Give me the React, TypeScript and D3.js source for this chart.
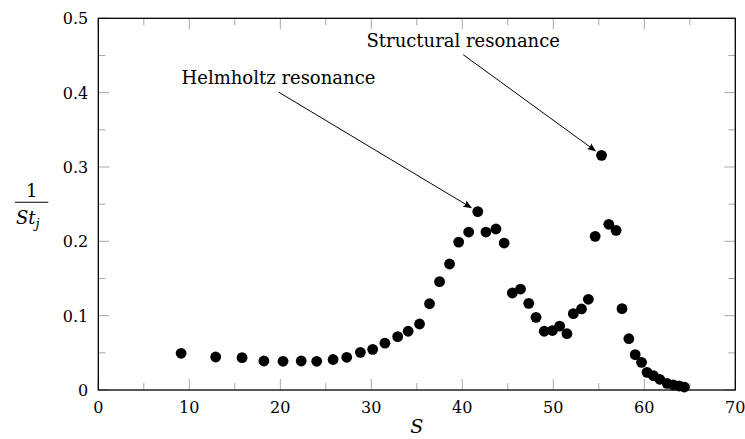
import React from "react";
import * as d3 from "d3";

// Strouhal-number measurements: inverse jet Strouhal number versus S
const sValues = [
  9.1, 12.9, 15.8, 18.2, 20.3, 22.3, 24.0, 25.8, 27.3, 28.8, 30.15, 31.5, 32.9, 34.05,
  35.3, 36.4, 37.5, 38.6, 39.6, 40.7, 41.7, 42.6, 43.7, 44.6, 45.5, 46.4, 47.3, 48.1,
  49.0, 49.9, 50.7, 51.5, 52.2, 53.1, 53.85, 54.6, 55.3, 56.1, 56.9, 57.55, 58.3, 59.0,
  59.7, 60.3, 61.0, 61.7, 62.5, 63.2, 63.85, 64.4,
];
const invSt = [
  0.0494, 0.0444, 0.0435, 0.039, 0.0386, 0.039, 0.0386, 0.041, 0.044, 0.0507, 0.0547,
  0.063, 0.0718, 0.079, 0.0888, 0.116, 0.1457, 0.1695, 0.199, 0.2125, 0.240, 0.2125,
  0.2166, 0.1977, 0.1305, 0.1358, 0.1166, 0.0977, 0.079, 0.080, 0.086, 0.0757, 0.1027,
  0.109, 0.122, 0.2067, 0.3157, 0.2229, 0.2148, 0.1094, 0.069, 0.0475, 0.0372, 0.0238,
  0.0193, 0.0144, 0.009, 0.0067, 0.0054, 0.004,
];

const xMajorTicks = [0, 10, 20, 30, 40, 50, 60, 70];
const xMinorTicks = [5, 15, 25, 35, 45, 55, 65];
const yMajorTicks = [0, 0.1, 0.2, 0.3, 0.4, 0.5];
const yMinorTicks = [0.05, 0.15, 0.25, 0.35, 0.45];

// Annotations: label, label anchor (axis coords, baseline centre), index of pointed sample
const annotationLabels = ["Helmholtz resonance", "Structural resonance"];
const annotationAnchors: [number, number][] = [
  [19.8, 0.4116],
  [40.1, 0.4618],
];
const annotationTargets = [20, 36];

const W = 745;
const H = 439;
const FONT = "'DejaVu Serif', serif";

export default function App() {
  const x = d3.scaleLinear().domain([0, 70]).range([98.3, 735.3]);
  const y = d3.scaleLinear().domain([0, 0.5]).range([390, 18.3]);
  const [x0, x1] = x.range();
  const [yb, yt] = y.range();
  const r = 5.4;
  const major = 11;
  const minor = 7;
  const tickColor = "#a8a8a8";

  const arrows = annotationTargets.map((ti, i) => {
    const [ax, ay] = annotationAnchors[i];
    const sx = x(ax);
    const sy = y(ay) + 8;
    const tx = x(sValues[ti]);
    const ty = y(invSt[ti]);
    const dx = tx - sx;
    const dy = ty - sy;
    const len = Math.hypot(dx, dy);
    const ux = dx / len;
    const uy = dy / len;
    const ex = tx - ux * (r + 1.2);
    const ey = ty - uy * (r + 1.2);
    // arrowhead
    const hl = 9;
    const hw = 3.6;
    const bx = ex - ux * hl;
    const by = ey - uy * hl;
    const px = -uy;
    const py = ux;
    const head = `M${ex},${ey} L${bx + px * hw},${by + py * hw} Q${ex - ux * hl * 0.7},${ey - uy * hl * 0.7} ${bx - px * hw},${by - py * hw} Z`;
    return { sx, sy, lx: ex - ux * 5, ly: ey - uy * 5, head, label: annotationLabels[i], tx: sx, ty: y(ay) };
  });

  const serif = { fontFamily: FONT };

  return (
    <svg
      width={W}
      height={H}
      style={{ position: "absolute", left: 0, top: 0, background: "#fff" }}
    >
      <rect x={0} y={0} width={W} height={H} fill="#fff" />
      {/* minor and major ticks, mirrored on all four sides */}
      <g stroke={tickColor} strokeWidth={1}>
        {xMinorTicks.map((t) => (
          <g key={"xm" + t}>
            <line x1={x(t)} x2={x(t)} y1={yb} y2={yb - minor} />
            <line x1={x(t)} x2={x(t)} y1={yt} y2={yt + minor} />
          </g>
        ))}
        {xMajorTicks.map((t) => (
          <g key={"xM" + t}>
            <line x1={x(t)} x2={x(t)} y1={yb} y2={yb - major} />
            <line x1={x(t)} x2={x(t)} y1={yt} y2={yt + major} />
          </g>
        ))}
        {yMinorTicks.map((t) => (
          <g key={"ym" + t}>
            <line x1={x0} x2={x0 + minor} y1={y(t)} y2={y(t)} />
            <line x1={x1} x2={x1 - minor} y1={y(t)} y2={y(t)} />
          </g>
        ))}
        {yMajorTicks.map((t) => (
          <g key={"yM" + t}>
            <line x1={x0} x2={x0 + major} y1={y(t)} y2={y(t)} />
            <line x1={x1} x2={x1 - major} y1={y(t)} y2={y(t)} />
          </g>
        ))}
      </g>
      <rect
        x={x0}
        y={yt}
        width={x1 - x0}
        height={yb - yt}
        fill="none"
        stroke="#000"
        strokeWidth={1.3}
      />
      {/* tick labels */}
      <g style={serif} fontSize={16} fill="#000">
        {xMajorTicks.map((t) => (
          <text key={"xl" + t} x={x(t)} y={yb + 22.5} textAnchor="middle" style={serif}>
            {d3.format("d")(t)}
          </text>
        ))}
        {yMajorTicks.map((t) => (
          <text key={"yl" + t} x={x0 - 10} y={y(t) + 6} textAnchor="end" style={serif}>
            {t === 0 ? "0" : d3.format(".1f")(t)}
          </text>
        ))}
      </g>
      {/* axis labels */}
      <text
        x={(x0 + x1) / 2}
        y={433}
        textAnchor="middle"
        style={serif}
        fontStyle="italic"
        fontSize={19}
      >
        S
      </text>
      <g fontSize={18}>
        <text x={31.7} y={197} textAnchor="middle" style={serif}>
          1
        </text>
        <line x1={15} x2={48.3} y1={202.3} y2={202.3} stroke="#000" strokeWidth={1.1} />
        <text x={16} y={224} fontStyle="italic" style={serif}>
          St
          <tspan fontSize={13} dy={4}>
            j
          </tspan>
        </text>
      </g>
      {/* data */}
      <g fill="#000">
        {sValues.map((s, i) => (
          <circle key={i} cx={x(s)} cy={y(invSt[i])} r={r} />
        ))}
      </g>
      {/* annotations */}
      {arrows.map((a, i) => (
        <g key={"ann" + i}>
          <text
            x={a.tx}
            y={a.ty}
            textAnchor="middle"
            style={serif}
            fontSize={18}
            fill="#000"
          >
            {a.label}
          </text>
          <line x1={a.sx} y1={a.sy} x2={a.lx} y2={a.ly} stroke="#000" strokeWidth={1} />
          <path d={a.head} fill="#000" />
        </g>
      ))}
    </svg>
  );
}
